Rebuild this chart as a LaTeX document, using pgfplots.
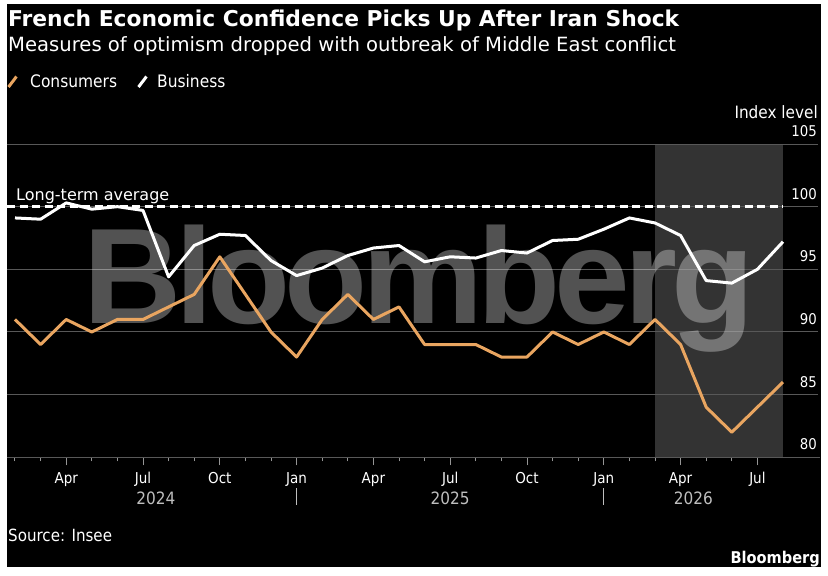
\documentclass[border=0pt]{standalone}
\usepackage{fontspec}
\setmainfont{DejaVu Sans Condensed}
\newfontfamily\widefont{DejaVu Sans}
\newfontfamily\wmfont[LetterSpace=-4.3]{Liberation Sans}
\usepackage{pgfplots}
\pgfplotsset{compat=1.18}
\definecolor{cons}{RGB}{233,165,96}
\definecolor{gridg}{RGB}{88,88,88}
\definecolor{tickg}{RGB}{150,150,150}
\definecolor{yearg}{RGB}{190,190,190}
\newcommand{\fs}[1]{\fontsize{#1}{#1}\selectfont}
\begin{document}
\begin{tikzpicture}
\fill[white] (0,0) rectangle (828pt,-576pt);
\fill[black] (7pt,-4pt) rectangle (821pt,-567pt);
\path[use as bounding box] (0,0) rectangle (828pt,-576pt);
% header
\node[anchor=base west, inner sep=0, text=white] at (8pt,-26.7pt) {\widefont\fs{21.8}\bfseries French Economic Confidence Picks Up After Iran Shock};
\node[anchor=base west, inner sep=0, text=white] at (8pt,-51.7pt) {\widefont\fs{19.6}Measures of optimism dropped with outbreak of Middle East conflict};
% legend
\draw[cons, line width=3pt] (8.5pt,-87pt) -- (16.5pt,-76.5pt);
\node[anchor=base west, inner sep=0, text=white] at (30pt,-87.7pt) {\fs{17.2}Consumers};
\draw[white, line width=3pt] (138.5pt,-87pt) -- (146.5pt,-76.5pt);
\node[anchor=base west, inner sep=0, text=white] at (157pt,-87.7pt) {\fs{17.2}Business};
\node[anchor=base east, inner sep=0, text=white] at (818pt,-118pt) {\fs{17}Index level};
% footer
\node[anchor=base west, inner sep=0, text=white] at (8pt,-541.7pt) {\fs{16.8}Source: Insee};
\node[anchor=base east, inner sep=0, text=white] at (820pt,-563pt) {\fs{16.2}\bfseries Bloomberg};
\begin{axis}[at={(15pt,-457.3pt)}, anchor=south west, scale only axis,
  width=768pt, height=313.3pt, xmin=0, xmax=30, ymin=80, ymax=105,
  clip=false, axis x line*=bottom, axis y line=none,
  x axis line style={draw=none}, ytick=\empty,
  xtick={2,5,...,29}, minor xtick={0,...,29}, xticklabels={},
  tick align=outside, major tick length=8pt, minor tick length=4pt,
  every tick/.style={tickg, line width=1pt}]
\fill[white, opacity=0.2] (axis cs:25,80) rectangle (axis cs:30,105);
\draw[gridg, line width=1pt] (axis cs:-0.3125,105) -- (axis cs:31.37,105);
\draw[gridg, line width=1pt] (axis cs:-0.3125,100) -- (axis cs:31.37,100);
\draw[gridg, line width=1pt] (axis cs:-0.3125,95) -- (axis cs:31.37,95);
\draw[gridg, line width=1pt] (axis cs:-0.3125,90) -- (axis cs:31.37,90);
\draw[gridg, line width=1pt] (axis cs:-0.3125,85) -- (axis cs:31.37,85);
\draw[gridg, line width=1pt] (axis cs:-0.3125,80) -- (axis cs:31.45,80);
% watermark
\node[anchor=base west, inner sep=0, text=white, text opacity=0.32] at (axis cs:2.66,90.69) {\wmfont\bfseries\fs{136}Bloomberg};
% long-term average
\draw[white, line width=2.5pt, dash pattern=on 8pt off 4.5pt] (axis cs:-0.3125,100) -- (axis cs:30,100);
\node[anchor=base west, inner sep=0, text=white] at (axis cs:0.04,100.48) {\widefont\fs{16}Long-term average};
% y labels
\node[anchor=base east, inner sep=0, text=white, yshift=7.5pt] at (axis cs:31.33,105) {\fs{14.8}105};
\node[anchor=base east, inner sep=0, text=white, yshift=7.5pt] at (axis cs:31.33,100) {\fs{14.8}100};
\node[anchor=base east, inner sep=0, text=white, yshift=7.5pt] at (axis cs:31.33,95) {\fs{14.8}95};
\node[anchor=base east, inner sep=0, text=white, yshift=7.5pt] at (axis cs:31.33,90) {\fs{14.8}90};
\node[anchor=base east, inner sep=0, text=white, yshift=7.5pt] at (axis cs:31.33,85) {\fs{14.8}85};
\node[anchor=base east, inner sep=0, text=white, yshift=7.5pt] at (axis cs:31.33,80) {\fs{14.8}80};
% x labels
\node[anchor=base, inner sep=0, text=white, yshift=-26pt] at (axis cs:2,80) {\fs{15}Apr};
\node[anchor=base, inner sep=0, text=white, yshift=-26pt] at (axis cs:5,80) {\fs{15}Jul};
\node[anchor=base, inner sep=0, text=white, yshift=-26pt] at (axis cs:8,80) {\fs{15}Oct};
\node[anchor=base, inner sep=0, text=white, yshift=-26pt] at (axis cs:11,80) {\fs{15}Jan};
\node[anchor=base, inner sep=0, text=white, yshift=-26pt] at (axis cs:14,80) {\fs{15}Apr};
\node[anchor=base, inner sep=0, text=white, yshift=-26pt] at (axis cs:17,80) {\fs{15}Jul};
\node[anchor=base, inner sep=0, text=white, yshift=-26pt] at (axis cs:20,80) {\fs{15}Oct};
\node[anchor=base, inner sep=0, text=white, yshift=-26pt] at (axis cs:23,80) {\fs{15}Jan};
\node[anchor=base, inner sep=0, text=white, yshift=-26pt] at (axis cs:26,80) {\fs{15}Apr};
\node[anchor=base, inner sep=0, text=white, yshift=-26pt] at (axis cs:29,80) {\fs{15}Jul};
\node[anchor=base, inner sep=0, text=yearg, yshift=-46.7pt] at (axis cs:5.5,80) {\fs{17}2024};
\node[anchor=base, inner sep=0, text=yearg, yshift=-46.7pt] at (axis cs:17,80) {\fs{17}2025};
\node[anchor=base, inner sep=0, text=yearg, yshift=-46.7pt] at (axis cs:26.5,80) {\fs{17}2026};
\draw[yearg, line width=1pt] ([yshift=-31pt]axis cs:11,80) -- ([yshift=-48pt]axis cs:11,80);
\draw[yearg, line width=1pt] ([yshift=-31pt]axis cs:23,80) -- ([yshift=-48pt]axis cs:23,80);
% data
\addplot[cons, line width=3pt, line join=round] coordinates {
(0,91) (1,89) (2,91) (3,90) (4,91) (5,91) (6,92) (7,93) (8,96) (9,93)
(10,90) (11,88) (12,91) (13,93) (14,91) (15,92) (16,89) (17,89) (18,89) (19,88)
(20,88) (21,90) (22,89) (23,90) (24,89) (25,91) (26,89) (27,84) (28,82) (29,84) (30,86)};
\addplot[white, line width=3pt, line join=round] coordinates {
(0,99.1) (1,99.0) (2,100.3) (3,99.8) (4,100.0) (5,99.7) (6,94.4) (7,96.9) (8,97.8) (9,97.7)
(10,95.7) (11,94.5) (12,95.1) (13,96.1) (14,96.7) (15,96.9) (16,95.6) (17,96.0) (18,95.9) (19,96.5)
(20,96.3) (21,97.3) (22,97.4) (23,98.2) (24,99.1) (25,98.7) (26,97.7) (27,94.1) (28,93.9) (29,95.0) (30,97.2)};
\end{axis}
\end{tikzpicture}
\end{document}
